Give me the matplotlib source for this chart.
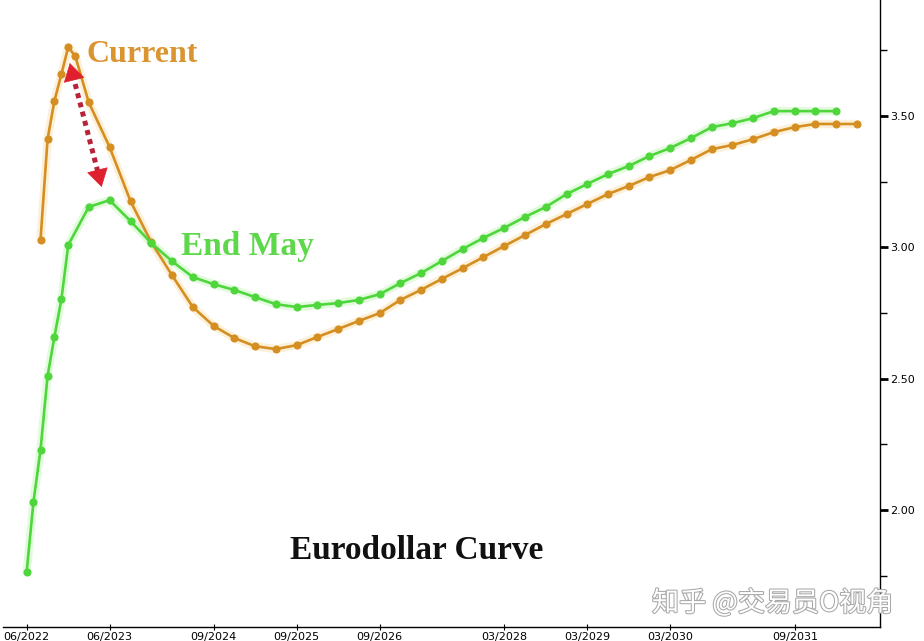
import matplotlib
matplotlib.use("Agg")
import matplotlib.pyplot as plt
import matplotlib.dates as mdates
import matplotlib.patheffects as pe
import pandas as pd

# ---- data ----
end_may_months = ["2022-06", "2022-07", "2022-08", "2022-09", "2022-10", "2022-11", "2022-12",
                  "2023-03", "2023-06", "2023-09", "2023-12", "2024-03", "2024-06", "2024-09", "2024-12",
                  "2025-03", "2025-06", "2025-09", "2025-12", "2026-03", "2026-06", "2026-09", "2026-12",
                  "2027-03", "2027-06", "2027-09", "2027-12", "2028-03", "2028-06", "2028-09", "2028-12",
                  "2029-03", "2029-06", "2029-09", "2029-12", "2030-03", "2030-06", "2030-09", "2030-12",
                  "2031-03", "2031-06", "2031-09", "2031-12", "2032-03"]
end_may_values = [1.764, 2.031, 2.229, 2.510, 2.659, 2.803, 3.009,
                  3.154, 3.180, 3.100, 3.017, 2.948, 2.887, 2.860, 2.838,
                  2.811, 2.784, 2.773, 2.781, 2.788, 2.800, 2.822, 2.864,
                  2.902, 2.948, 2.994, 3.036, 3.074, 3.116, 3.154, 3.203,
                  3.241, 3.279, 3.310, 3.348, 3.378, 3.416, 3.458, 3.473,
                  3.492, 3.519, 3.519, 3.519, 3.519]

current_months = ["2022-08", "2022-09", "2022-10", "2022-11", "2022-12", "2023-01",
                  "2023-03", "2023-06", "2023-09", "2023-12", "2024-03", "2024-06", "2024-09", "2024-12",
                  "2025-03", "2025-06", "2025-09", "2025-12", "2026-03", "2026-06", "2026-09", "2026-12",
                  "2027-03", "2027-06", "2027-09", "2027-12", "2028-03", "2028-06", "2028-09", "2028-12",
                  "2029-03", "2029-06", "2029-09", "2029-12", "2030-03", "2030-06", "2030-09", "2030-12",
                  "2031-03", "2031-06", "2031-09", "2031-12", "2032-03", "2032-06"]
current_values = [3.028, 3.412, 3.557, 3.660, 3.763, 3.728,
                  3.553, 3.382, 3.176, 3.020, 2.895, 2.773, 2.701, 2.655,
                  2.624, 2.613, 2.628, 2.659, 2.689, 2.720, 2.750, 2.800,
                  2.838, 2.880, 2.921, 2.963, 3.005, 3.047, 3.089, 3.127,
                  3.165, 3.203, 3.234, 3.268, 3.294, 3.333, 3.374, 3.390,
                  3.412, 3.439, 3.458, 3.470, 3.470, 3.470]

x_tick_months = ["2022-06", "2023-06", "2024-09", "2025-09", "2026-09",
                 "2028-03", "2029-03", "2030-03", "2031-09"]
y_major = [2.00, 2.50, 3.00, 3.50]
y_minor = [1.75, 2.25, 2.75, 3.25, 3.75]

em_dates = pd.to_datetime(end_may_months)
cur_dates = pd.to_datetime(current_months)
xt = pd.to_datetime(x_tick_months)

ORANGE = "#D48E22"
GREEN = "#4ED63C"

fig = plt.figure(figsize=(9.24, 6.41), dpi=100)
fig.patch.set_facecolor("white")
W, H = 924, 641
ax = fig.add_axes([3 / W, 14 / H, 877 / W, 627 / H])

# glow underlays
ax.plot(cur_dates, current_values, color="#F5C46A", lw=6, alpha=0.25, solid_capstyle="round", zorder=2)
ax.plot(em_dates, end_may_values, color="#9CF58C", lw=6, alpha=0.3, solid_capstyle="round", zorder=2)
ax.plot(cur_dates, current_values, color=ORANGE, lw=1.9, marker="o", ms=4.8, mec=ORANGE, mfc=ORANGE, zorder=4)
ax.plot(em_dates, end_may_values, color=GREEN, lw=1.9, marker="o", ms=4.8, mec=GREEN, mfc=GREEN, zorder=4)

ax.set_ylim(1.555, 3.942)
ax.set_xlim(pd.Timestamp("2022-02-17"), pd.Timestamp("2032-09-10"))

for s in ["left", "top"]:
    ax.spines[s].set_visible(False)
ax.spines["right"].set_linewidth(1.0)
ax.spines["bottom"].set_linewidth(1.0)

ax.yaxis.tick_right()
ax.set_yticks(y_major)
ax.set_yticks(y_minor, minor=True)
ax.set_yticklabels([f"{v:.2f}" for v in y_major], fontsize=8, fontfamily="DejaVu Sans")
ax.tick_params(axis="y", which="major", direction="out", length=6, width=2, pad=1, colors="black")
ax.tick_params(axis="y", which="minor", direction="out", length=5, width=1)

ax.set_xticks(xt)
ax.xaxis.set_major_formatter(mdates.DateFormatter("%m/%Y"))
ax.tick_params(axis="x", which="major", direction="inout", length=5, width=0.8, pad=1, labelsize=8)
ax.xaxis.set_minor_locator(plt.NullLocator())

# annotations
ax.text(pd.Timestamp("2023-02-20"), 3.733, "Current", color="#DB9530", fontsize=23,
        fontfamily="Liberation Serif", fontweight="bold", va="center", ha="left", zorder=5)
ax.text(pd.Timestamp("2024-04-08"), 3.005, "End May", color="#5ED84B", fontsize=24,
        fontfamily="Liberation Serif", fontweight="bold", va="center", ha="left", zorder=5)
ax.text(pd.Timestamp("2025-08-01"), 1.848, "Eurodollar Curve", color="#111111", fontsize=24,
        fontfamily="Liberation Serif", fontweight="bold", va="center", ha="left", zorder=5)

# red dotted double arrow
top_tip = (pd.Timestamp("2022-12-08"), 3.702)
top_base = (pd.Timestamp("2022-12-21"), 3.657)
bot_tip = (pd.Timestamp("2023-04-27"), 3.230)
bot_base = (pd.Timestamp("2023-04-14"), 3.275)
ax.plot([top_base[0], bot_base[0]], [top_base[1], bot_base[1]], color="#B8233A",
        lw=3.6, linestyle=(0, (1, 0.9)), solid_capstyle="butt", zorder=6)
for tip, base in [(top_tip, top_base), (bot_tip, bot_base)]:
    ax.annotate("", xy=tip, xytext=base,
                arrowprops=dict(arrowstyle="-|>,head_length=0.75,head_width=0.45", color="#E0202E",
                                lw=0.5, mutation_scale=16, shrinkA=0, shrinkB=0), zorder=7)

fig.text(652 / W, 1 - 603 / H, "知乎 @交易员O视角", fontsize=19.5, color="white",
         fontfamily=["Noto Sans CJK SC", "DejaVu Sans"], va="center", ha="left",
         path_effects=[pe.withStroke(linewidth=1.5, foreground="#A8A8A8")], zorder=10)

fig.savefig("out.png", dpi=100, facecolor="white")
